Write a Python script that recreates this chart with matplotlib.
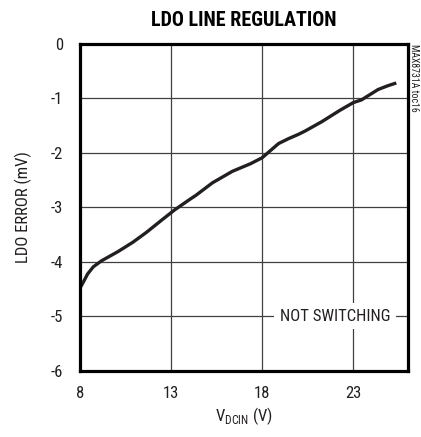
import matplotlib
matplotlib.use('Agg')
import matplotlib.pyplot as plt

# LDO line regulation
vdcin = [8.0, 8.2, 8.42, 8.73, 9.18, 10.09, 10.9, 11.64, 12.46, 13.18, 14.0,
         14.36, 15.27, 16.36, 17.36, 18.0, 18.45, 18.9, 19.45, 20.0, 20.36,
         21.27, 22.27, 23.0, 23.45, 24.36, 24.9, 25.36]
ldo_err = [-4.48, -4.36, -4.22, -4.09, -3.98, -3.81, -3.64, -3.46, -3.24,
           -3.05, -2.86, -2.78, -2.55, -2.34, -2.2, -2.09, -1.96, -1.83,
           -1.74, -1.66, -1.6, -1.43, -1.22, -1.08, -1.03, -0.84, -0.77, -0.72]

xticks = [8, 13, 18, 23]
yticks = [0, -1, -2, -3, -4, -5, -6]

plt.rcParams['font.family'] = ['Roboto Condensed', 'Liberation Sans Narrow',
                               'Roboto', 'DejaVu Sans']

fig = plt.figure(figsize=(4.21, 4.37), dpi=100)
ax = fig.add_axes([0.190, 0.151, 0.779, 0.749])

ax.plot(vdcin, ldo_err, color='#231f20', lw=2.4, solid_capstyle='butt')

ax.set_xlim(8, 26)
ax.set_ylim(-6, 0)
ax.set_xticks(xticks)
ax.set_yticks(yticks)
ax.set_yticklabels([str(v) for v in yticks])
ax.tick_params(length=0, labelsize=12, pad=12, colors='#231f20')
ax.tick_params(axis='x', pad=11)
ax.grid(True, color='#404040', lw=0.9)
for s in ax.spines.values():
    s.set_linewidth(2.3)
    s.set_color('#000000')
    s.set_zorder(3)

ax.set_xlabel(r'V$_{\mathregular{DCIN}}$ (V)', fontsize=12, labelpad=3, color='#231f20')
ax.set_ylabel('LDO ERROR (mV)', fontsize=12, labelpad=14, color='#231f20')
ax.set_title('LDO LINE REGULATION', fontsize=14.5, fontweight='bold', pad=13)

# label sits on the -5 grid line and blanks it out
ax.text(22.0, -5.0, 'NOT SWITCHING', fontsize=12, ha='center', va='center',
        color='#231f20', zorder=2.5,
        bbox=dict(facecolor='white', edgecolor='none', pad=4))

fig.text(0.983, 0.90, 'MAX8731A toc16', rotation=270, fontsize=7,
         ha='center', va='top', color='#231f20')

fig.savefig('out.png', dpi=100)
